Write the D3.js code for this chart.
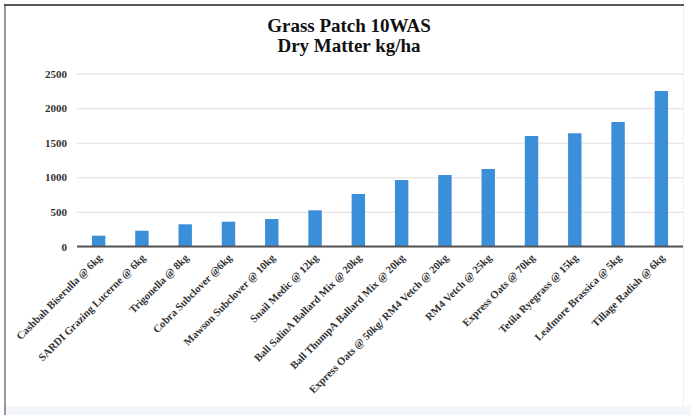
<!DOCTYPE html>
<html>
<head>
<meta charset="utf-8">
<script src="https://cdn.jsdelivr.net/npm/d3@7"></script>
<style>
  html, body { margin: 0; padding: 0; background: #ffffff; }
  svg { display: block; }
</style>
</head>
<body>
<svg id="chart" width="691" height="415"></svg>
<script>
// Dry matter yield (kg/ha) at 10 weeks after sowing, Grass Patch trial
const categories = [
  "Cashbah Biserulla @ 6kg",
  "SARDI Grazing Lucerne @ 6kg",
  "Trigonella @ 8kg",
  "Cobra Subclover @6kg",
  "Mawson Subclover @ 10kg",
  "Snail Medic @ 12kg",
  "Ball SalinA Ballard Mix @ 20kg",
  "Ball ThumpA Ballard Mix @ 20kg",
  "Express Oats @ 50kg/ RM4 Vetch @ 20kg",
  "RM4 Vetch @ 25kg",
  "Express Oats @ 70kg",
  "Tetila Ryegrass @ 15kg",
  "Leafmore Brassica @ 5kg",
  "Tillage Radish @ 6kg"
];
const dryMatter = [156, 228, 321, 358, 397, 523, 759, 961, 1033, 1120, 1597, 1636, 1799, 2247];
const yTicks = [0, 500, 1000, 1500, 2000, 2500];
const titleLines = ["Grass Patch 10WAS", "Dry Matter kg/ha"];

const svg = d3.select("#chart");
const W = 691, H = 415;
const plot = { left: 77, right: 683, top: 73.5, bottom: 246.5 };
const serif = "'Liberation Serif', 'Times New Roman', serif";

// outer frame
svg.append("rect").attr("x", 0).attr("y", 0).attr("width", W).attr("height", H).attr("fill", "#ffffff");
svg.append("rect").attr("x", 5).attr("y", 406).attr("width", 686).attr("height", 9).attr("fill", "#f3f6fa");
svg.append("line").attr("x1", 4).attr("x2", 684).attr("y1", 5).attr("y2", 5)
  .attr("stroke", "#222").attr("stroke-width", 1.5);
svg.append("line").attr("x1", 5).attr("x2", 5).attr("y1", 4).attr("y2", 415)
  .attr("stroke", "#555").attr("stroke-width", 1.2);
svg.append("line").attr("x1", 683.5).attr("x2", 683.5).attr("y1", 6).attr("y2", 406)
  .attr("stroke", "#eceff2").attr("stroke-width", 1);

const x = d3.scaleBand()
  .domain(categories)
  .range([plot.left, plot.right])
  .paddingInner(0.69)
  .paddingOuter(0.345);

const y = d3.scaleLinear()
  .domain([0, 2500])
  .range([plot.bottom, plot.top]);

// horizontal gridlines + value labels
const yAxis = d3.axisLeft(y)
  .tickValues(yTicks)
  .tickSize(-(plot.right - plot.left))
  .tickPadding(10)
  .tickFormat(d3.format("d"));

const gy = svg.append("g")
  .attr("transform", `translate(${plot.left},0)`)
  .call(yAxis);
gy.select(".domain").remove();
gy.selectAll(".tick line").attr("stroke", "#e3dcdc").attr("stroke-width", 1);
gy.selectAll(".tick text")
  .attr("font-family", serif)
  .attr("font-size", 11)
  .attr("font-weight", "bold")
  .attr("fill", "#333");

// bars
svg.append("g").selectAll("rect")
  .data(categories)
  .join("rect")
  .attr("x", d => x(d))
  .attr("width", x.bandwidth())
  .attr("y", (d, i) => y(dryMatter[i]))
  .attr("height", (d, i) => y(0) - y(dryMatter[i]))
  .attr("fill", "#3b8ed8");

// category axis
const xAxis = d3.axisBottom(x).tickSize(0).tickPadding(0);
const gx = svg.append("g")
  .attr("transform", `translate(0,${plot.bottom})`)
  .call(xAxis);
gx.select(".domain").attr("stroke", "#555").attr("stroke-width", 2.2)
  .attr("d", `M${plot.left},0H${plot.right}`);
gx.selectAll(".tick text")
  .attr("font-family", serif)
  .attr("font-size", 10.7)
  .attr("font-weight", "bold")
  .attr("fill", "#333")
  .attr("text-anchor", "end")
  .attr("dy", null)
  .attr("y", null)
  .attr("transform", "translate(4,12) rotate(-45)");

// title
const title = svg.append("text")
  .attr("x", 349)
  .attr("text-anchor", "middle")
  .attr("font-family", serif)
  .attr("font-weight", "bold")
  .attr("font-size", 19)
  .attr("fill", "#111");
title.selectAll("tspan")
  .data(titleLines)
  .join("tspan")
  .attr("x", 349)
  .attr("y", (d, i) => 32 + i * 20)
  .text(d => d);
</script>
</body>
</html>
